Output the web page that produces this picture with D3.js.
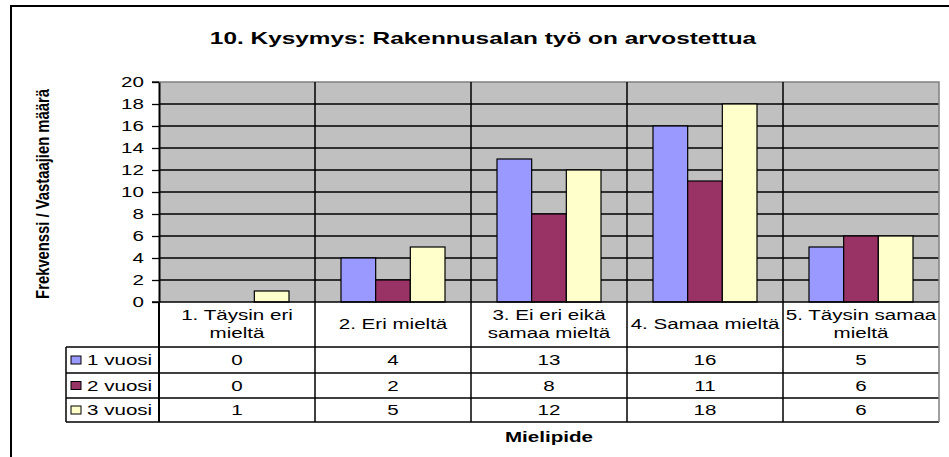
<!DOCTYPE html>
<html>
<head>
<meta charset="utf-8">
<script src="https://cdn.jsdelivr.net/npm/d3@7"></script>
<style>
html,body{margin:0;padding:0;background:#fff;}
svg{display:block;font-family:"Liberation Sans",Arial,sans-serif;}
</style>
</head>
<body>
<svg id="chart" width="949" height="457"></svg>
<script>
// ---- data ----
const title = "10. Kysymys: Rakennusalan työ on arvostettua";
const yTitle = "Frekvenssi / Vastaajien määrä";
const xTitle = "Mielipide";
const categories = ["1. Täysin eri mieltä", "2. Eri mieltä", "3. Ei eri eikä samaa mieltä", "4. Samaa mieltä", "5. Täysin samaa mieltä"];
const categoryLines = [["1. Täysin eri", "mieltä"], ["2. Eri mieltä"], ["3. Ei eri eikä", "samaa mieltä"], ["4. Samaa mieltä"], ["5. Täysin samaa", "mieltä"]];
const seriesNames = ["1 vuosi", "2 vuosi", "3 vuosi"];
const vuosi1 = [0, 4, 13, 16, 5];
const vuosi2 = [0, 2, 8, 11, 6];
const vuosi3 = [1, 5, 12, 18, 6];
const yTicks = [0, 2, 4, 6, 8, 10, 12, 14, 16, 18, 20];
const seriesColors = ["#9999FF", "#993366", "#FFFFCC"];

const seriesValues = [vuosi1, vuosi2, vuosi3];
const K = 1.47; // horizontal text stretch

const svg = d3.select("#chart");
const L = 159, R = 939, T = 82, B = 302;

const x0 = d3.scaleBand().domain(categories).range([L, R]).paddingInner(0).paddingOuter(0);
const x1 = d3.scaleBand().domain(seriesNames).range([0, x0.bandwidth()]).paddingInner(0).paddingOuter(0.75);
const y = d3.scaleLinear().domain([0, 20]).range([B, T]);

function txt(g, x, yy, s, o) {
  o = o || {};
  const t = g.append("text")
    .attr("transform", `translate(${x},${yy}) scale(${K},1)`)
    .attr("text-anchor", o.anchor || "middle")
    .attr("font-size", o.size || 14)
    .attr("font-weight", o.bold ? "bold" : "normal")
    .attr("fill", "#000")
    .text(s);
  return t;
}

// outer chart border
svg.append("path").attr("d", "M11,460 L11,6 L952,6").attr("fill", "none").attr("stroke", "#000").attr("stroke-width", 2);

// title
txt(svg, 483, 44, title, {size: 16.6, bold: true});

// plot background
svg.append("rect").attr("x", L).attr("y", T).attr("width", R - L).attr("height", B - T).attr("fill", "#C0C0C0");

// gridlines
svg.append("g").selectAll("line").data(yTicks.filter(d => d > 0 && d < 20)).join("line")
  .attr("x1", L).attr("x2", R).attr("y1", d => y(d)).attr("y2", d => y(d))
  .attr("stroke", "#000").attr("stroke-width", 1.3);

// top and right plot borders (gray)
svg.append("path").attr("d", `M${L},${y(20)} L${R},${y(20)} L${R},${B}`).attr("fill", "none").attr("stroke", "#808080").attr("stroke-width", 1.5);
svg.append("line").attr("x1", L - 7).attr("x2", L).attr("y1", y(20)).attr("y2", y(20)).attr("stroke", "#000").attr("stroke-width", 1.3);

// category dividers
svg.append("g").selectAll("line").data(categories.slice(1)).join("line")
  .attr("x1", d => x0(d)).attr("x2", d => x0(d)).attr("y1", T).attr("y2", 422)
  .attr("stroke", "#000").attr("stroke-width", 1.5);

// bars
const groups = svg.append("g").selectAll("g").data(categories).join("g")
  .attr("transform", d => `translate(${x0(d)},0)`);
groups.selectAll("rect").data((d, i) => seriesNames.map((s, j) => ({s, j, v: seriesValues[j][i]})))
  .join("rect")
  .attr("x", d => x1(d.s)).attr("width", x1.bandwidth())
  .attr("y", d => y(d.v)).attr("height", d => y(0) - y(d.v))
  .attr("fill", d => seriesColors[d.j]).attr("stroke", "#000").attr("stroke-width", 1.2)
  .attr("display", d => d.v > 0 ? null : "none");

// y axis
const yAxis = svg.append("g").attr("transform", `translate(${L},0)`)
  .call(d3.axisLeft(y).tickValues(yTicks).tickSize(7).tickSizeOuter(0));
yAxis.select(".domain").attr("stroke", "#000").attr("stroke-width", 2);
yAxis.selectAll(".tick line").attr("stroke", "#000").attr("stroke-width", 1.3);
yAxis.selectAll(".tick text")
  .attr("font-family", "'Liberation Sans',Arial,sans-serif")
  .attr("font-size", 14).attr("fill", "#000")
  .attr("x", -15 / K).attr("dy", "0.35em")
  .attr("transform", `scale(${K},1)`);

// y title
svg.append("text")
  .attr("transform", `translate(49,194) rotate(-90) scale(1,1.25)`)
  .attr("text-anchor", "middle").attr("font-size", 14.8).attr("font-weight", "bold")
  .text(yTitle);

// zero line
svg.append("line").attr("x1", L - 7).attr("x2", R).attr("y1", B).attr("y2", B).attr("stroke", "#000").attr("stroke-width", 1.5);

// data table
const rowY = [347, 373, 398, 422];
const tbl = svg.append("g");
tbl.selectAll("line.h").data(rowY).join("line")
  .attr("x1", 66).attr("x2", R).attr("y1", d => d).attr("y2", d => d)
  .attr("stroke", "#000").attr("stroke-width", 1.5);
tbl.append("line").attr("x1", 66).attr("x2", 66).attr("y1", 347).attr("y2", 422).attr("stroke", "#000").attr("stroke-width", 1.5);
tbl.append("line").attr("x1", L).attr("x2", L).attr("y1", B).attr("y2", 422).attr("stroke", "#000").attr("stroke-width", 2);
tbl.append("line").attr("x1", R).attr("x2", R).attr("y1", B).attr("y2", 422).attr("stroke", "#808080").attr("stroke-width", 1.5);

// header labels
categories.forEach((c, i) => {
  const cx = x0(c) + x0.bandwidth() / 2;
  const lines = categoryLines[i];
  if (lines.length === 1) {
    txt(tbl, cx, 329, lines[0]);
  } else {
    txt(tbl, cx, 320, lines[0]);
    txt(tbl, cx, 338, lines[1]);
  }
});

// data rows
seriesNames.forEach((s, j) => {
  const cy = (rowY[j] + rowY[j + 1]) / 2;
  tbl.append("rect").attr("x", 71).attr("y", cy - 4).attr("width", 10).attr("height", 8)
    .attr("fill", seriesColors[j]).attr("stroke", "#000").attr("stroke-width", 1);
  txt(tbl, 87, cy + 5, s, {anchor: "start"});
  categories.forEach((c, i) => {
    txt(tbl, x0(c) + x0.bandwidth() / 2, cy + 5, String(seriesValues[j][i]));
  });
});

// x title
txt(svg, 549, 442, xTitle, {size: 14, bold: true});
</script>
</body>
</html>
